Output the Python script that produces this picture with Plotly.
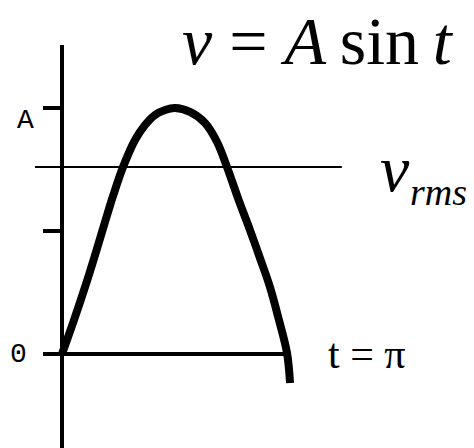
import plotly.graph_objects as go

t_pts = [0.0, 0.167, 0.32, 0.459, 0.598, 0.709, 0.848, 1.015, 1.154, 1.293, 1.432, 1.571,
         1.779, 1.988, 2.155, 2.294, 2.446, 2.613, 2.752, 2.891, 3.016, 3.128, 3.17]
v_pts = [0.0, 0.138, 0.272, 0.402, 0.537, 0.642, 0.760, 0.870, 0.931, 0.972, 0.992, 1.0,
         0.984, 0.939, 0.862, 0.760, 0.634, 0.504, 0.390, 0.272, 0.138, 0.004, -0.118]

tick_vals = [0.0, 0.5, 1.0]
v_rms = 0.76
t_end = 3.10      # where the time axis stops
v_axis_top = 1.256

fig = go.Figure()

fig.add_trace(go.Scatter(x=t_pts, y=v_pts, mode="lines", line_shape="spline",
                         line=dict(color="black", width=8), hoverinfo="skip"))

black = dict(color="black", width=4)
# vertical axis
fig.add_shape(type="line", x0=0, x1=0, y0=-0.5, y1=v_axis_top, line=black)
# time axis
fig.add_shape(type="line", x0=0, x1=t_end, y0=0, y1=0, line=black)
# ticks on the vertical axis
for tv in tick_vals:
    fig.add_shape(type="line", x0=-0.264, x1=0, y0=tv, y1=tv, line=black)
# rms level
fig.add_shape(type="line", x0=-0.375, x1=3.89, y0=v_rms, y1=v_rms,
              line=dict(color="black", width=2))

serif = "Liberation Serif"
fig.add_annotation(x=-0.514, y=0.951, text="A", showarrow=False,
                   font=dict(family="Liberation Mono", size=28, color="black"))
fig.add_annotation(x=-0.61, y=0.0, text="0", showarrow=False,
                   font=dict(family="Liberation Mono", size=28, color="black"))
fig.add_annotation(x=3.56, y=1.272, showarrow=False,
                   text="<i>v</i> = <i>A</i>\u2009sin\u2009<i>t</i>",
                   font=dict(family=serif, size=68, color="black"))
fig.add_annotation(x=4.63, y=0.756, text="<i>v</i>", showarrow=False,
                   font=dict(family=serif, size=66, color="black"))
fig.add_annotation(x=5.24, y=0.659, text="<i>rms</i>", showarrow=False,
                   font=dict(family=serif, size=38, color="black"))
fig.add_annotation(x=4.24, y=0.0, text="t = \u03c0", showarrow=False,
                   font=dict(family=serif, size=42, color="black"))

fig.update_layout(width=474, height=448, margin=dict(l=0, r=0, t=0, b=0),
                  plot_bgcolor="white", paper_bgcolor="white", showlegend=False)
fig.update_xaxes(range=[-0.862, 5.727], visible=False)
fig.update_yaxes(range=[-0.382, 1.439], visible=False)

# drop the default body margin so the figure fills the window
fig.write_html("out.html", config={"displayModeBar": False},
               post_script="document.body.style.margin = '0';")
